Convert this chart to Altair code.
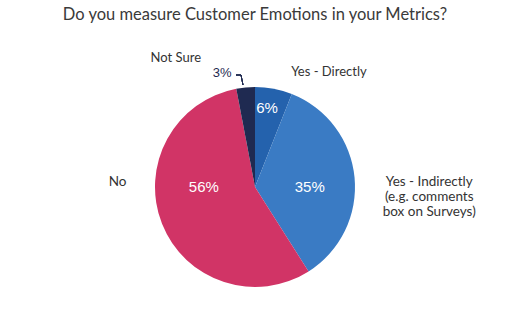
import math
import altair as alt
import pandas as pd

categories = ["Yes - Directly", "Yes - Indirectly", "No", "Not Sure"]
values = [6, 35, 56, 3]
display = ["Yes - Directly", "Yes - Indirectly\n(e.g. comments\nbox on Surveys)", "No", "Not Sure"]
pct = ["6%", "35%", "56%", "3%"]
title = "Do you measure Customer Emotions in your Metrics?"

colors = ["#2462ad", "#3a7bc4", "#d13466", "#1f2a51"]

df = pd.DataFrame({"idx": range(len(categories)), "category": categories,
                   "value": values, "label": display, "pct": pct})

base = alt.Chart(df)

arc = base.mark_arc().encode(
    theta=alt.Theta("value:Q", stack=True, scale=alt.Scale(domain=[0, 100])),
    color=alt.Color("category:N", scale=alt.Scale(domain=categories, range=colors), legend=None),
    order=alt.Order("idx:Q"),
    radius=alt.value(100),
)

stacked = base.transform_window(
    cum="sum(value)", sort=[alt.SortField("idx")], frame=[None, 0]
).transform_calculate(mid="datum.cum - datum.value / 2")


def txt(cat, field, r, dx=0, dy=0, color="#333333", font="Lato", size=13):
    return stacked.transform_filter(alt.datum.category == cat).mark_text(
        font=font, fontSize=size, color=color, dx=dx, dy=dy,
        align="center", baseline="middle", lineBreak="\n", lineHeight=15,
    ).encode(
        theta=alt.Theta("mid:Q", stack=None, scale=alt.Scale(domain=[0, 100])),
        radius=alt.value(r),
        text=alt.Text(f"{field}:N"),
    )


layers = [
    arc,
    txt("Yes - Directly", "pct", 80, dx=-3, color="white", font="Liberation Sans", size=15),
    txt("Yes - Indirectly", "pct", 55, dy=5, color="white", font="Liberation Sans", size=15),
    txt("No", "pct", 55, dy=-20, color="white", font="Liberation Sans", size=15),
    txt("Not Sure", "pct", 115, dx=-22, color="#1f2a51", font="Liberation Sans", size=13),
    txt("Yes - Directly", "label", 117, dx=52),
    txt("Yes - Indirectly", "label", 175, dy=11, size=13.5),
    txt("No", "label", 137, dx=-10, dy=-55, size=13.5),
    txt("Not Sure", "label", 130, dx=-67),
    alt.Chart(df).mark_rule(color="#1f2a51", strokeWidth=1).encode(
        x=alt.value(236), x2=alt.value(241), y=alt.value(75 - 49), y2=alt.value(75 - 49)),
    alt.Chart(df).mark_rule(color="#1f2a51", strokeWidth=1).encode(
        x=alt.value(241), x2=alt.value(243), y=alt.value(75 - 49), y2=alt.value(85 - 49)),
]

chart = alt.layer(*layers).properties(
    width=510, height=276,
    autosize="none",
    padding={"left": 0, "top": 49, "right": 0, "bottom": 0},
    title=alt.Title(title, font="Lato", fontSize=16.5, fontWeight="normal",
                    color="#3a3a3a", anchor="middle", offset=26),
).configure_view(stroke=None)

chart.save("out.html", embed_options={"renderer": "svg", "actions": False})
